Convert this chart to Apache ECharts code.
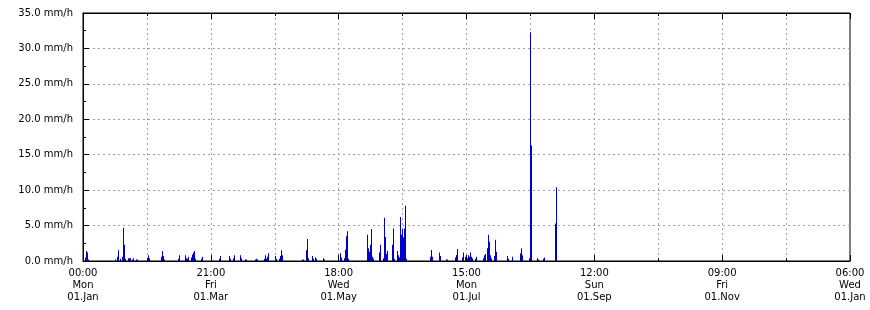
<!DOCTYPE html>
<html><head><meta charset="utf-8">
<script src="https://cdn.jsdelivr.net/npm/echarts@6/dist/echarts.min.js"></script>
<style>html,body{margin:0;padding:0;background:#fff}#c{width:870px;height:310px}</style>
</head><body><div id="c"></div>
<script>
// time span of the graph in hours and number of consolidated readings
const spanHours = 8766;
const sampleCount = 767;
const xTickStepHours = 1461;

const xTickLabels = [
  '00:00\nMon\n01.Jan', '21:00\nFri\n01.Mar', '18:00\nWed\n01.May',
  '15:00\nMon\n01.Jul', '12:00\nSun\n01.Sep', '09:00\nFri\n01.Nov', '06:00\nWed\n01.Jan'
];
const yTickLabels = ['0.0 mm/h', '5.0 mm/h', '10.0 mm/h', '15.0 mm/h', '20.0 mm/h', '25.0 mm/h', '30.0 mm/h', '35.0 mm/h'];

// reading index (non-zero readings only; all other readings are 0.0)
const rainSample = [
  2,3,4,5, 32,34,35,37,39,40,41,42, 45,46,47,49,50,53,54, 64,65,66, 78,79,80,81,
  95,96, 102,103,104,105, 108,109,110,111,112, 118,119, 136,137, 146,147, 150,151,
  157,158, 162,163, 172,173,174, 181,182,183,184,185, 192,193, 196,197,198,199,
  219,220, 223,224,225, 229,230,232,233, 240,241, 257,258, 261,262,263,264,265,
  284,285,286,287,288,289,290, 296,297, 300,301,302,303,304, 309,310,311,
  314,315,316,317,318,319,320,321,322,323,
  347,348,349, 356,357, 363,364, 372,373,374, 379,380,382, 384,385,386,387,388,389,
  392,393, 400,401,402, 404,405,406,407,408, 411,412,413, 424,425, 429,
  437,438,439, 446,447,448, 454,455, 460,461, 472,473
];
// rain rate in mm/h for each reading above
const rainRate = [
  0.5,1.4,1.2,0.2, 0.2,0.6,1.5,0.3,0.6,4.7,2.3,0.3, 0.4,0.4,0.4,0.2,0.4,0.2,0.2, 0.4,0.8,0.4, 0.6,1.4,0.7,0.2,
  0.3,0.8, 0.8,0.4,0.3,0.6, 0.5,0.9,1.2,1.4,0.3, 0.3,0.6, 0.3,0.7, 0.7,0.3, 0.4,0.8,
  0.8,0.4, 0.2,0.2, 0.2,0.3,0.2, 0.3,0.8,0.3,0.6,1.1, 0.7,0.3, 0.3,0.7,1.5,0.8,
  0.2,0.2, 1.5,3.1,0.4, 0.7,0.3,0.5,0.3, 0.4,0.2, 1.1,0.5, 0.4,1.6,3.5,4.2,0.3,
  3.7,1.8,1.3,2.3,4.5,0.6,0.3, 1.2,2.3, 0.4,6.1,3.4,1.0,1.45, 2.3,4.6,0.3,
  1.4,0.8,0.5,6.2,3.7,4.5,3.3,4.6,7.8,0.3,
  0.6,1.55,0.6, 1.2,0.7, 0.2,0.2, 0.5,0.85,1.7, 0.5,1.2,0.6, 0.4,0.8,0.6,1.2,0.6,0.4,
  0.3,0.6, 0.4,0.8,1.0, 1.8,3.7,2.7,0.8,0.4, 0.7,3.0,1.3, 0.7,0.3, 0.6,
  1.1,1.8,0.8, 0.4,32.3,16.3, 0.4,0.2, 0.3,0.5, 5.3,10.4
];

const hoursPerSample = spanHours / sampleCount;
const seriesData = rainSample.map((s, i) => [(s + 0.5) * hoursPerSample, rainRate[i]]);

const font = { fontFamily: 'DejaVu Sans', fontSize: 10, color: '#000' };
const gridLine = { color: '#a0a0a0', width: 1, type: [2, 3] };

const chart = echarts.init(document.getElementById('c'), null, { renderer: 'canvas' });
chart.setOption({
  animation: false,
  backgroundColor: '#fff',
  grid: { left: 83, right: 20, top: 13, bottom: 49, show: true, borderColor: '#000', borderWidth: 1, backgroundColor: 'transparent' },
  xAxis: [{
    type: 'value', position: 'bottom', min: 0, max: spanHours, interval: xTickStepHours, z: 0,
    axisLine: { show: true, lineStyle: { color: '#000', width: 1 } },
    axisTick: { show: true, inside: true, length: 6, lineStyle: { color: '#000' } },
    minorTick: { show: true, splitNumber: 2, length: 3, lineStyle: { color: '#000' } },
    splitLine: { show: true, showMinLine: false, showMaxLine: false, lineStyle: gridLine },
    minorSplitLine: { show: true, lineStyle: gridLine },
    axisLabel: Object.assign({ margin: 6, lineHeight: 12, showMinLabel: true, showMaxLabel: true,
      formatter: v => xTickLabels[Math.round(v / xTickStepHours)] }, font)
  }, {
    type: 'value', position: 'top', min: 0, max: spanHours, interval: xTickStepHours, z: 3,
    axisLine: { show: true, lineStyle: { color: '#000', width: 1 } },
    axisTick: { show: true, inside: true, length: 6, lineStyle: { color: '#000' } },
    minorTick: { show: true, splitNumber: 2, length: 3, lineStyle: { color: '#000' } },
    splitLine: { show: false }, axisLabel: { show: false }
  }],
  yAxis: [{
    type: 'value', min: 0, max: 35, interval: 5, z: 0,
    axisLine: { show: true, lineStyle: { color: '#000', width: 1 } },
    axisTick: { show: true, inside: true, length: 6, lineStyle: { color: '#000' } },
    minorTick: { show: true, splitNumber: 2, length: 3, lineStyle: { color: '#000' } },
    splitLine: { show: true, showMinLine: false, showMaxLine: false, lineStyle: gridLine },
    axisLabel: Object.assign({ margin: 10, formatter: v => yTickLabels[Math.round(v / 5)] }, font)
  }],
  series: [{
    type: 'bar', xAxisIndex: 0, yAxisIndex: 0, barWidth: 1,
    data: seriesData, itemStyle: { color: '#0000cc' }, z: 2
  }]
});
</script></body></html>
